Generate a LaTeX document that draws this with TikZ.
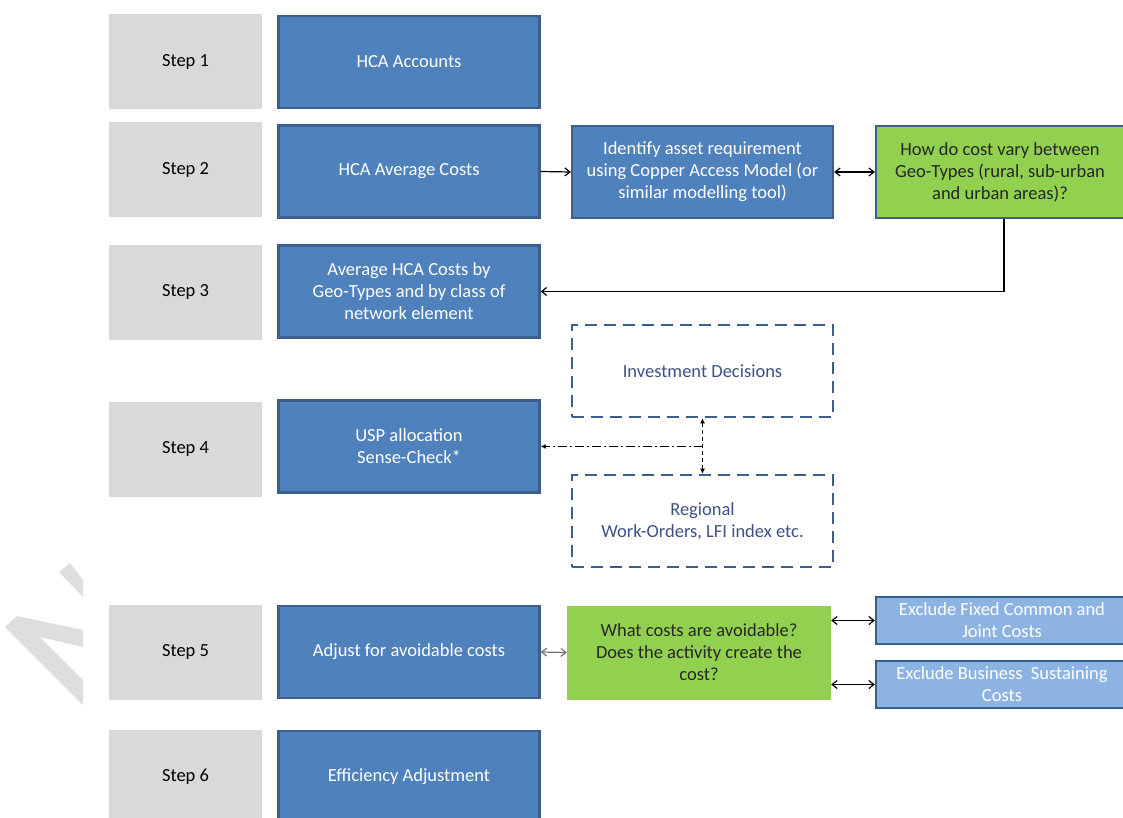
\documentclass[tikz,border=0pt]{standalone}
\usepackage{fontspec}
\setmainfont{Carlito}
\usetikzlibrary{arrows.meta,positioning}
\definecolor{stepgrey}{HTML}{D9D9D9}
\definecolor{fillblue}{HTML}{4F81BD}
\definecolor{edgeblue}{HTML}{3B5E8C}
\definecolor{paleblue}{HTML}{8DB3E2}
\definecolor{leaf}{HTML}{92D050}
\definecolor{inkblue}{HTML}{3D5283}
\definecolor{wmark}{HTML}{DEDEDE}
\tikzset{
  tag/.style ={fill=stepgrey, draw=none, inner sep=0pt,
               minimum width=153pt, minimum height=95pt},
  blk/.style ={fill=fillblue, draw=edgeblue, line width=2.4pt, text=white,
               align=center, inner sep=0pt, minimum width=261pt, minimum height=92pt},
  qbox/.style={fill=leaf, align=center, inner sep=0pt, text=black!85,
               minimum height=94pt},
  xbox/.style={fill=paleblue, draw=edgeblue, line width=2.4pt, text=white,
               align=center, inner sep=0pt, minimum width=252pt, minimum height=47pt},
  dbox/.style={draw=edgeblue, line width=2.6pt, dash pattern=on 12pt off 7pt,
               text=inkblue, align=center, inner sep=0pt,
               minimum width=261pt, minimum height=92pt},
  lnk/.style ={draw=black, line width=1.2pt, -{Straight Barb[length=5pt,width=8pt]}},
  lnk2/.style={lnk, {Straight Barb[length=5pt,width=8pt]}-{Straight Barb[length=5pt,width=8pt]}},
  lnkg/.style={lnk2, draw=black!55},
  side/.style={draw=black, line width=1pt, -{Latex[length=5pt,width=5pt]}},
}

\begin{document}
\begin{tikzpicture}[x=1pt,y=-1pt,font=\fontsize{18.5}{22}\selectfont]
  \useasboundingbox (0,0) rectangle (1123,818);
  \clip (0,0) rectangle (1123,818);
  \def\XS{185.5}   % step column
  \def\XB{409}     % blue column
  \def\XM{702.5}   % middle column
  \def\XR{1002}    % right column

  % watermark fragments at the left edge
  \fill[wmark] (59,572) -- (70,563) -- (83,580) -- (83,597) -- cycle;
  \fill[wmark] (5,627) -- (17,616) -- (83,630) -- (83,647) -- (40,637)
               -- (83,680) -- (83,705) -- cycle;

  % ---------------------------------------------------------------- steps
  \foreach \y/\n in {61.5/1, 170/2, 292/3, 449/4, 652/5, 777/6}
    \node[tag] (t\n) at (\XS,\y) {Step \n};

  % ---------------------------------------------------------------- main column
  \node[blk] (b1) at (\XB,62)    {HCA Accounts};
  \node[blk] (b2) at (\XB,171.5) {HCA Average Costs};
  \node[blk] (b3) at (\XB,291.5) {Average HCA Costs by\\Geo-Types and by class of\\network element};
  \node[blk] (b4) at (\XB,446.5) {USP allocation\\Sense-Check*};
  \node[blk] (b5) at (\XB,652)   {Adjust for avoidable costs};
  \node[blk] (b6) at (\XB,777)   {Efficiency Adjustment};

  % ---------------------------------------------------------------- step 2
  \node[blk]  (cam) at (\XM,172) {Identify asset requirement\\using Copper Access Model (or\\similar modelling tool)};
  \node[qbox, draw=edgeblue, line width=2.4pt, minimum width=248pt, minimum height=92pt]
              (geo) at (1000,172) {How do cost vary between\\Geo-Types (rural, sub-urban\\and urban areas)?};

  % ---------------------------------------------------------------- step 4
  \node[dbox] (inv) at (\XM,371) {Investment Decisions};
  \node[dbox] (reg) at (\XM,521) {Regional\\Work-Orders, LFI index etc.};
  \coordinate (jn) at (\XM,446.5);

  % ---------------------------------------------------------------- step 5
  \node[qbox, minimum width=264pt] (av) at (699,652.5)
        {What costs are avoidable?\\Does the activity create the\\cost?};
  \node[xbox] (xf) at (\XR,620.5) {Exclude Fixed Common and\\Joint Costs};
  \node[xbox] (xb) at (\XR,684.5) {Exclude Business\ \ Sustaining\\Costs};

  % ---------------------------------------------------------------- links
  \draw[lnk]  (b2.east) -- (cam.west);
  \draw[lnk2] (cam.east) -- (geo.west);
  \draw[lnk]  ([xshift=4pt]geo.south) |- (b3.east);
  \draw[side, dash pattern=on 9pt off 3pt on 2pt off 3pt] (jn) -- (b4.east);
  \draw[side, {Latex[length=5pt,width=5pt]}-{Latex[length=5pt,width=5pt]},
        dash pattern=on 4pt off 3pt] (inv.south) -- (reg.north);
  \draw[lnkg] (b5.east) -- (av.west);
  \draw[lnk2] (av.east |- xf.west) -- (xf.west);
  \draw[lnk2] (av.east |- xb.west) -- (xb.west);
\end{tikzpicture}
\end{document}
